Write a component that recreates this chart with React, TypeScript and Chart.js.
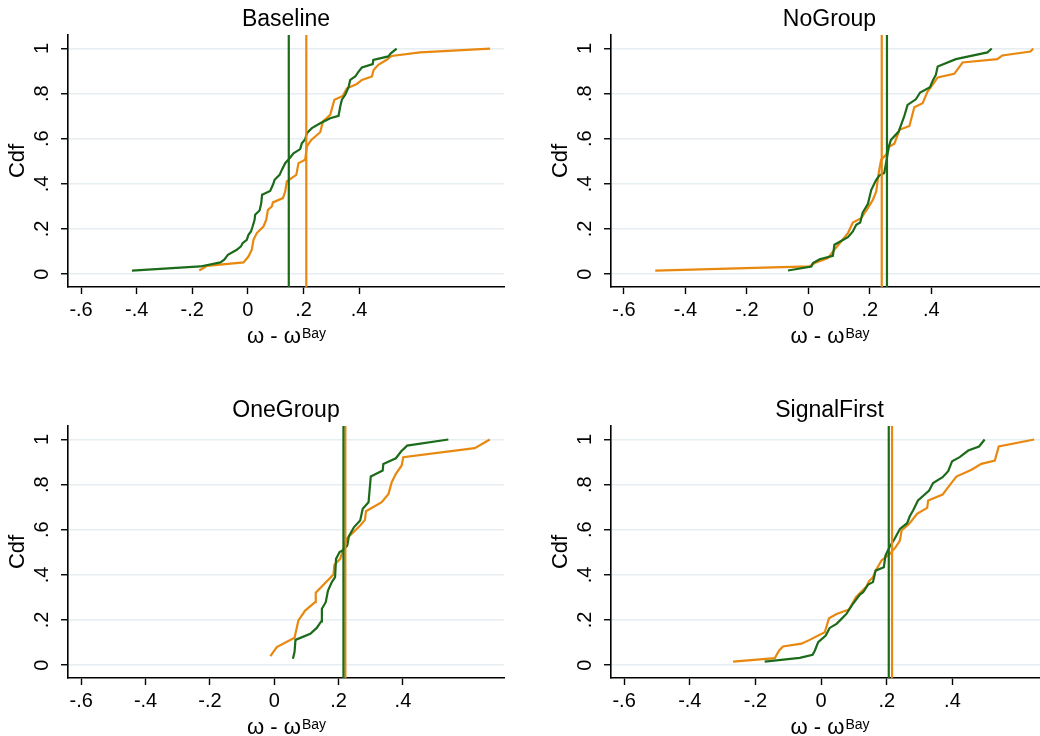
import { useEffect, useRef } from "react";
import { Chart, registerables } from "chart.js";

Chart.register(...registerables);

// ---- data -------------------------------------------------------------
// Empirical CDFs of ω - ω^Bay, [x, cumulative share] pairs per treatment.
const baselineA: [number, number][] = [
  [-0.417, 0.016], [-0.171, 0.034], [-0.099, 0.052], [-0.085, 0.064], [-0.072, 0.086],
  [-0.04, 0.108], [-0.025, 0.123], [-0.019, 0.137], [-0.004, 0.152], [0.002, 0.174],
  [0.011, 0.189], [0.017, 0.211], [0.024, 0.241], [0.026, 0.263], [0.042, 0.282],
  [0.048, 0.315], [0.051, 0.352], [0.08, 0.369], [0.09, 0.396], [0.096, 0.418],
  [0.114, 0.44], [0.122, 0.462], [0.134, 0.492], [0.15, 0.514], [0.164, 0.536],
  [0.188, 0.554], [0.194, 0.58], [0.206, 0.598], [0.212, 0.625], [0.23, 0.647],
  [0.26, 0.669], [0.296, 0.691], [0.326, 0.702], [0.332, 0.743], [0.338, 0.773],
  [0.35, 0.795], [0.362, 0.829], [0.368, 0.861], [0.386, 0.876], [0.398, 0.898],
  [0.41, 0.916], [0.449, 0.931], [0.451, 0.95], [0.505, 0.965], [0.514, 0.979],
  [0.535, 1.0],
];
const baselineB: [number, number][] = [
  [-0.175, 0.016], [-0.147, 0.037], [-0.016, 0.052], [0.002, 0.078], [0.014, 0.108],
  [0.02, 0.152], [0.032, 0.182], [0.056, 0.211], [0.066, 0.241], [0.072, 0.285],
  [0.086, 0.3], [0.09, 0.318], [0.126, 0.337], [0.134, 0.366], [0.14, 0.411],
  [0.174, 0.44], [0.182, 0.492], [0.206, 0.507], [0.212, 0.566], [0.228, 0.595],
  [0.26, 0.629], [0.27, 0.677], [0.296, 0.706], [0.311, 0.773], [0.341, 0.79],
  [0.356, 0.824], [0.392, 0.843], [0.41, 0.861], [0.446, 0.876], [0.452, 0.905],
  [0.469, 0.928], [0.499, 0.95], [0.517, 0.967], [0.619, 0.983], [0.871, 1.0],
];
const noGroupA: [number, number][] = [
  [-0.066, 0.016], [0.01, 0.034], [0.015, 0.049], [0.037, 0.066], [0.08, 0.081],
  [0.085, 0.13], [0.129, 0.164], [0.145, 0.189], [0.156, 0.219], [0.169, 0.229],
  [0.177, 0.273], [0.194, 0.312], [0.205, 0.374], [0.221, 0.418], [0.231, 0.437],
  [0.247, 0.448], [0.253, 0.492], [0.262, 0.566], [0.269, 0.595], [0.294, 0.632],
  [0.312, 0.699], [0.323, 0.75], [0.35, 0.775], [0.364, 0.805], [0.396, 0.829],
  [0.406, 0.861], [0.415, 0.883], [0.421, 0.92], [0.48, 0.953], [0.583, 0.983],
  [0.597, 1.0],
];
const noGroupB: [number, number][] = [
  [-0.498, 0.016], [0.004, 0.034], [0.021, 0.049], [0.064, 0.071], [0.08, 0.1],
  [0.102, 0.137], [0.129, 0.182], [0.145, 0.229], [0.172, 0.248], [0.19, 0.285],
  [0.21, 0.329], [0.221, 0.366], [0.229, 0.448], [0.237, 0.507], [0.253, 0.529],
  [0.264, 0.566], [0.28, 0.578], [0.297, 0.64], [0.329, 0.657], [0.345, 0.74],
  [0.372, 0.758], [0.388, 0.809], [0.404, 0.839], [0.421, 0.872], [0.475, 0.888],
  [0.502, 0.938], [0.615, 0.953], [0.631, 0.969], [0.723, 0.987], [0.732, 1.0],
];
const oneGroupA: [number, number][] = [
  [0.058, 0.028], [0.063, 0.058], [0.066, 0.112], [0.112, 0.139], [0.132, 0.165],
  [0.146, 0.194], [0.148, 0.25], [0.16, 0.279], [0.167, 0.331], [0.179, 0.368],
  [0.189, 0.39], [0.192, 0.471], [0.203, 0.501], [0.215, 0.511], [0.227, 0.53],
  [0.232, 0.572], [0.248, 0.612], [0.267, 0.641], [0.275, 0.693], [0.293, 0.722],
  [0.3, 0.836], [0.337, 0.863], [0.339, 0.892], [0.378, 0.917], [0.394, 0.947],
  [0.413, 0.973], [0.541, 1.0],
];
const oneGroupB: [number, number][] = [
  [-0.012, 0.04], [0.008, 0.08], [0.063, 0.121], [0.075, 0.198], [0.096, 0.242],
  [0.127, 0.279], [0.129, 0.321], [0.184, 0.402], [0.187, 0.445], [0.205, 0.471],
  [0.225, 0.56], [0.267, 0.619], [0.282, 0.644], [0.285, 0.682], [0.334, 0.722],
  [0.355, 0.759], [0.365, 0.811], [0.378, 0.848], [0.396, 0.885], [0.401, 0.922],
  [0.623, 0.962], [0.67, 1.0],
];
const signalFirstA: [number, number][] = [
  [-0.172, 0.016], [-0.065, 0.032], [-0.026, 0.046], [-0.019, 0.065], [-0.009, 0.102],
  [0.014, 0.131], [0.026, 0.165], [0.047, 0.183], [0.062, 0.205], [0.077, 0.227],
  [0.097, 0.272], [0.118, 0.313], [0.128, 0.323], [0.143, 0.357], [0.158, 0.368],
  [0.166, 0.419], [0.191, 0.434], [0.196, 0.486], [0.209, 0.526], [0.224, 0.56],
  [0.24, 0.604], [0.262, 0.629], [0.27, 0.66], [0.28, 0.685], [0.295, 0.73],
  [0.329, 0.774], [0.341, 0.807], [0.37, 0.833], [0.387, 0.86], [0.399, 0.904],
  [0.422, 0.922], [0.448, 0.951], [0.481, 0.969], [0.498, 1.0],
];
const signalFirstB: [number, number][] = [
  [-0.268, 0.016], [-0.141, 0.031], [-0.128, 0.065], [-0.116, 0.083], [-0.06, 0.095],
  [-0.035, 0.112], [0.011, 0.146], [0.024, 0.208], [0.047, 0.227], [0.085, 0.247],
  [0.106, 0.301], [0.138, 0.349], [0.146, 0.372], [0.158, 0.39], [0.166, 0.419],
  [0.184, 0.464], [0.209, 0.493], [0.227, 0.523], [0.24, 0.552], [0.245, 0.597],
  [0.266, 0.623], [0.28, 0.648], [0.292, 0.671], [0.323, 0.697], [0.326, 0.73],
  [0.37, 0.756], [0.387, 0.789], [0.412, 0.836], [0.458, 0.866], [0.488, 0.892],
  [0.529, 0.907], [0.541, 0.969], [0.649, 1.0],
];

// Means (vertical reference lines), one per panel.
const meanA = [0.147, 0.256, 0.215, 0.206];
const meanB = [0.21, 0.239, 0.221, 0.216];

const panelTitles = ["Baseline", "NoGroup", "OneGroup", "SignalFirst"];

// Axis ranges and ticks
const xMins = [-0.647, -0.642, -0.641, -0.64];
const xMaxs = [0.921, 0.78, 0.714, 0.691];
const yMin = -0.057;
const yMax = 1.06;
const xTickValues = [-0.6, -0.4, -0.2, 0, 0.2, 0.4];
const xTickLabels = ["-.6", "-.4", "-.2", "0", ".2", ".4"];
const yTickValues = [0, 0.2, 0.4, 0.6, 0.8, 1];
const yTickLabels = ["0", ".2", ".4", ".6", ".8", "1"];
const yTitle = "Cdf";
const xTitleMain = "ω - ω";
const xTitleSup = "Bay";

// ---- styling / layout ------------------------------------------------
const FONT = '"Liberation Sans", Arial, Helvetica, sans-serif';
const GREEN = "#1b6b1b";
const ORANGE = "#e8880f";
const GRID = "#e7eef2";
const AXIS_W = 68; // width reserved for the y axis
const X_AXIS_H = 65; // height reserved for the x axis
const PAD_TOP = 35;
const PAD_RIGHT = 16;
const PLOT_H = 252;

const panelLayout = [
  { left: 0, top: 0, plotW: 436 },
  { left: 543, top: 0, plotW: 437 },
  { left: 0, top: 391, plotW: 436 },
  { left: 543, top: 391, plotW: 437 },
];

const curves = [
  [baselineA, baselineB],
  [noGroupA, noGroupB],
  [oneGroupA, oneGroupB],
  [signalFirstA, signalFirstB],
];

const panelText = {
  id: "panelText",
  afterDraw(chart: any, _args: any, opts: any) {
    const { ctx, chartArea } = chart;
    const cx = (chartArea.left + chartArea.right) / 2;
    ctx.save();
    ctx.fillStyle = "#000";
    ctx.textBaseline = "alphabetic";
    ctx.textAlign = "center";
    ctx.font = `23px ${FONT}`;
    ctx.fillText(opts.title, cx, chartArea.top - 9);

    // x-axis title with a superscript
    ctx.font = `22px ${FONT}`;
    const wMain = ctx.measureText(xTitleMain).width;
    ctx.font = `14px ${FONT}`;
    const wSup = ctx.measureText(xTitleSup).width;
    const x0 = cx - (wMain + wSup) / 2;
    const base = chartArea.bottom + 56;
    ctx.textAlign = "left";
    ctx.font = `22px ${FONT}`;
    ctx.fillText(xTitleMain, x0, base);
    ctx.font = `14px ${FONT}`;
    ctx.fillText(xTitleSup, x0 + wMain + 1, base - 5);
    ctx.restore();
  },
};

function lineSet(points: { x: number; y: number }[], color: string, order: number) {
  return {
    data: points,
    showLine: true,
    borderColor: color,
    backgroundColor: color,
    borderWidth: 2.2,
    pointRadius: 0,
    pointHoverRadius: 0,
    tension: 0,
    fill: false,
    order,
  };
}

function Panel({ index }: { index: number }) {
  const ref = useRef<HTMLCanvasElement>(null);
  const lay = panelLayout[index];
  const width = AXIS_W + lay.plotW + PAD_RIGHT;
  const height = PAD_TOP + PLOT_H + X_AXIS_H;

  useEffect(() => {
    const [a, b] = curves[index];
    const toPts = (arr: [number, number][]) => arr.map(([x, y]) => ({ x, y }));
    const vLine = (m: number) => [
      { x: m, y: yMin },
      { x: m, y: yMax },
    ];
    const chart = new Chart(ref.current as HTMLCanvasElement, {
      type: "scatter",
      data: {
        datasets: [
          lineSet(vLine(meanA[index]), GREEN, 0),
          lineSet(vLine(meanB[index]), ORANGE, 1),
          lineSet(toPts(a), GREEN, 2),
          lineSet(toPts(b), ORANGE, 3),
        ] as any,
      },
      options: {
        animation: false,
        responsive: false,
        devicePixelRatio: 1,
        events: [],
        layout: { padding: { top: PAD_TOP, right: PAD_RIGHT, left: 0, bottom: 0 } },
        plugins: {
          legend: { display: false },
          tooltip: { enabled: false },
          panelText: { title: panelTitles[index] },
        } as any,
        scales: {
          x: {
            type: "linear",
            min: xMins[index],
            max: xMaxs[index],
            afterBuildTicks: (s: any) => {
              s.ticks = xTickValues.map((value) => ({ value }));
            },
            afterFit: (s: any) => {
              s.height = X_AXIS_H;
            },
            ticks: {
              autoSkip: false,
              maxRotation: 0,
              minRotation: 0,
              padding: 4,
              color: "#000",
              font: { family: FONT, size: 20 },
              callback: (_v: any, i: number) => xTickLabels[i],
            },
            grid: {
              drawOnChartArea: false,
              drawTicks: true,
              tickLength: 7,
              tickColor: "#000",
              tickWidth: 1.4,
            },
            border: { display: true, color: "#000", width: 1.6 },
          },
          y: {
            type: "linear",
            min: yMin,
            max: yMax,
            afterBuildTicks: (s: any) => {
              s.ticks = yTickValues.map((value) => ({ value }));
            },
            afterFit: (s: any) => {
              s.width = AXIS_W;
            },
            ticks: {
              autoSkip: false,
              minRotation: 90,
              maxRotation: 90,
              crossAlign: "center",
              padding: 10,
              color: "#000",
              font: { family: FONT, size: 20 },
              callback: (_v: any, i: number) => yTickLabels[i],
            },
            grid: {
              color: GRID,
              lineWidth: 1.5,
              drawTicks: true,
              tickLength: 7,
              tickColor: "#000",
              tickWidth: 1.4,
            },
            border: { display: true, color: "#000", width: 1.6 },
            title: {
              display: true,
              text: yTitle,
              color: "#000",
              font: { family: FONT, size: 22 },
              padding: { top: 5, bottom: 0 },
            },
          },
        },
      },
      plugins: [panelText],
    });
    return () => chart.destroy();
  }, [index]);

  return (
    <canvas
      ref={ref}
      width={width}
      height={height}
      style={{ position: "absolute", left: lay.left, top: lay.top, width, height }}
    />
  );
}

export default function App() {
  return (
    <div
      style={{
        position: "fixed",
        left: 0,
        top: 0,
        width: 1040,
        height: 736,
        overflow: "hidden",
        background: "#fff",
      }}
    >
      {panelTitles.map((_, i) => (
        <Panel key={i} index={i} />
      ))}
    </div>
  );
}
